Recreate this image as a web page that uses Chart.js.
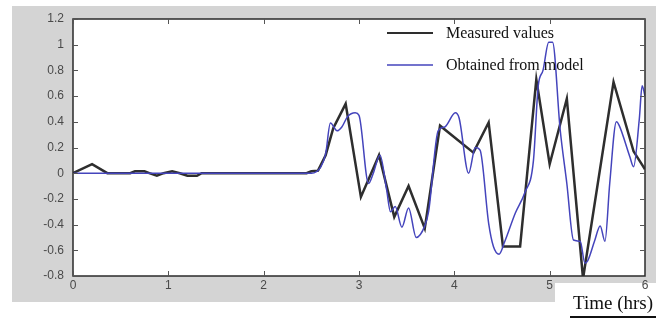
<!DOCTYPE html>
<html>
<head>
<meta charset="utf-8">
<script src="https://cdn.jsdelivr.net/npm/chart.js@4/dist/chart.umd.min.js"></script>
<style>
  html, body { margin: 0; padding: 0; background: #fff; }
  #wrap { width: 656px; height: 322px; position: relative; }
</style>
</head>
<body>
<div id="wrap"><canvas id="chart" width="656" height="322"></canvas></div>
<script>
const xTicks = [0, 1, 2, 3, 4, 5, 6];
const yTicks = [1.2, 1, 0.8, 0.6, 0.4, 0.2, 0, -0.2, -0.4, -0.6, -0.8];
const yTickLabels = ['1.2', '1', '0.8', '0.6', '0.4', '0.2', '0', '-0.2', '-0.4', '-0.6', '-0.8'];

const measuredX = [0, 0.2, 0.36, 0.6, 0.65, 0.75, 0.8, 0.88, 0.95, 1.04, 1.12, 1.2, 1.3, 1.35, 2.45, 2.5, 2.57, 2.65, 2.73, 2.86, 3.02, 3.21, 3.37, 3.52, 3.69, 3.85, 4.2, 4.36, 4.51, 4.69, 4.86, 5.0, 5.18, 5.35, 5.67, 5.88, 6.0];
const measuredY = [0, 0.07, 0, 0, 0.015, 0.015, 0, -0.02, 0, 0.015, 0, -0.02, -0.02, 0, 0, 0.015, 0.02, 0.14, 0.35, 0.54, -0.185, 0.14, -0.34, -0.1, -0.43, 0.37, 0.16, 0.395, -0.57, -0.57, 0.73, 0.07, 0.58, -0.82, 0.71, 0.17, 0.03];

const modelX = [0, 2.5, 2.6, 2.65, 2.7, 2.77, 2.82, 2.88, 2.96, 3.0, 3.1, 3.15, 3.22, 3.29, 3.33, 3.38, 3.45, 3.52, 3.6, 3.69, 3.73, 3.83, 3.9, 4.01, 4.05, 4.15, 4.22, 4.27, 4.36, 4.41, 4.47, 4.53, 4.64, 4.74, 4.83, 4.88, 4.93, 4.99, 5.03, 5.11, 5.18, 5.25, 5.32, 5.37, 5.4, 5.47, 5.53, 5.58, 5.63, 5.7, 5.73, 5.84, 5.88, 5.94, 5.97, 6.0];
const modelY = [0, 0, 0.05, 0.15, 0.39, 0.33, 0.36, 0.44, 0.47, 0.45, -0.08, 0, 0.14, -0.13, -0.3, -0.26, -0.42, -0.27, -0.5, -0.41, -0.3, 0.33, 0.36, 0.47, 0.43, 0, 0.2, 0.18, -0.39, -0.57, -0.63, -0.53, -0.31, -0.15, 0.1, 0.68, 0.8, 1.02, 1.02, 0.34, -0.08, -0.52, -0.53, -0.7, -0.68, -0.53, -0.41, -0.53, -0.08, 0.4, 0.37, 0.13, 0.05, 0.42, 0.68, 0.6];

const seriesNames = ['Measured values', 'Obtained from model'];
const seriesColors = ['#2e2e2e', '#4444bc'];
const xAxisTitle = 'Time (hrs)';

const toPoints = (xs, ys) => xs.map((x, i) => ({ x: x, y: ys[i] }));

const panelPlugin = {
    id: 'panel',
    beforeDraw(chart) {
        const ctx = chart.ctx;
        const a = chart.chartArea;
        ctx.save();
        ctx.fillStyle = '#ffffff';
        ctx.fillRect(0, 0, chart.width, chart.height);
        ctx.fillStyle = '#d4d4d4';
        ctx.fillRect(12, 6, 644, 296);
        ctx.fillStyle = '#ffffff';
        ctx.fillRect(555, 283, 101, 39);
        ctx.fillRect(a.left, a.top, a.right - a.left, a.bottom - a.top);
        ctx.restore();
    },
    afterDraw(chart) {
        const ctx = chart.ctx;
        const a = chart.chartArea;
        const xs = chart.scales.x;
        const ys = chart.scales.y;
        ctx.save();
        // axes box
        ctx.strokeStyle = '#2a2a2a';
        ctx.lineWidth = 1.5;
        ctx.strokeRect(a.left, a.top, a.right - a.left, a.bottom - a.top);
        // inward tick marks
        ctx.lineWidth = 1;
        ctx.strokeStyle = '#555';
        ctx.beginPath();
        xTicks.forEach(v => {
            const px = Math.round(xs.getPixelForValue(v)) + 0.5;
            ctx.moveTo(px, a.bottom); ctx.lineTo(px, a.bottom - 5);
            ctx.moveTo(px, a.top); ctx.lineTo(px, a.top + 5);
        });
        yTicks.forEach(v => {
            const py = Math.round(ys.getPixelForValue(v)) + 0.5;
            ctx.moveTo(a.left, py); ctx.lineTo(a.left + 5, py);
            ctx.moveTo(a.right, py); ctx.lineTo(a.right - 5, py);
        });
        ctx.stroke();
        // legend inside the axes
        ctx.font = '16px "Liberation Serif", "Times New Roman", serif';
        ctx.textBaseline = 'middle';
        ctx.textAlign = 'left';
        seriesNames.forEach((name, i) => {
            const y = 33 + i * 32;
            ctx.strokeStyle = seriesColors[i];
            ctx.lineWidth = i === 0 ? 2 : 1.5;
            ctx.beginPath();
            ctx.moveTo(387, y); ctx.lineTo(433, y);
            ctx.stroke();
            ctx.fillStyle = '#111';
            ctx.fillText(name, 446, y + 1);
        });
        // axis title with underline
        ctx.font = '19px "Liberation Serif", "Times New Roman", serif';
        ctx.textBaseline = 'alphabetic';
        ctx.fillStyle = '#111';
        ctx.fillText(xAxisTitle, 573, 309);
        ctx.strokeStyle = '#111';
        ctx.lineWidth = 2;
        ctx.beginPath();
        ctx.moveTo(570, 317); ctx.lineTo(656, 317);
        ctx.stroke();
        ctx.restore();
    }
};

new Chart(document.getElementById('chart'), {
    type: 'line',
    data: {
        datasets: [
            {
                label: seriesNames[1],
                data: toPoints(modelX, modelY),
                borderColor: seriesColors[1],
                borderWidth: 1.5,
                pointRadius: 0,
                cubicInterpolationMode: 'monotone',
                fill: false,
                order: 1
            },
            {
                label: seriesNames[0],
                data: toPoints(measuredX, measuredY),
                borderColor: seriesColors[0],
                borderWidth: 2.5,
                pointRadius: 0,
                tension: 0,
                fill: false,
                order: 2
            }
        ]
    },
    options: {
        responsive: false,
        animation: false,
        layout: { padding: { left: 0, top: 19, right: 11, bottom: 0 } },
        plugins: {
            legend: { display: false },
            tooltip: { enabled: false }
        },
        scales: {
            x: {
                type: 'linear',
                min: 0,
                max: 6,
                grid: { display: false, drawTicks: false },
                border: { display: false },
                afterBuildTicks: scale => { scale.ticks = xTicks.map(v => ({ value: v })); },
                afterFit: scale => { scale.height = 46; },
                ticks: {
                    padding: 2,
                    color: '#4a4a4a',
                    font: { family: '"Liberation Sans", Arial, sans-serif', size: 12 },
                    maxRotation: 0,
                    callback: v => String(v)
                }
            },
            y: {
                min: -0.8,
                max: 1.2,
                grid: { display: false, drawTicks: false },
                border: { display: false },
                afterBuildTicks: scale => { scale.ticks = yTicks.map(v => ({ value: v })); },
                afterFit: scale => { scale.width = 73; },
                ticks: {
                    padding: 9,
                    color: '#4a4a4a',
                    font: { family: '"Liberation Sans", Arial, sans-serif', size: 12 },
                    callback: (v, i) => yTickLabels[i]
                }
            }
        }
    },
    plugins: [panelPlugin]
});
</script>
</body>
</html>
